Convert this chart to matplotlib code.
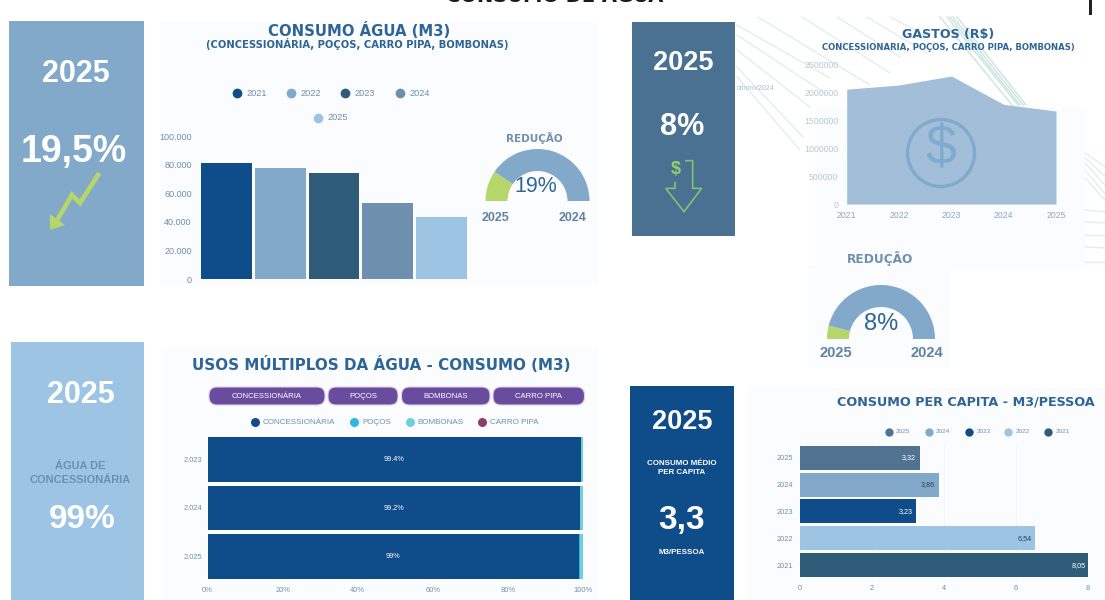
import numpy as np
import matplotlib
matplotlib.use("Agg")
import matplotlib.pyplot as plt
from matplotlib.patches import Rectangle, FancyBboxPatch, Circle, Polygon

W, H = 1105, 600
SANS = "Liberation Sans"
WIDE = "DejaVu Sans"
plt.rcParams["font.family"] = [SANS, "DejaVu Sans"]

# ---- data ----
years = ["2021", "2022", "2023", "2024", "2025"]
consumo = [81300, 77600, 74000, 53400, 43200]
consumo_ticks = [0, 20000, 40000, 60000, 80000, 100000]
consumo_tick_labels = ["0", "20.000", "40.000", "60.000", "80.000", "100.000"]
gastos = [2050000, 2125000, 2286000, 1780000, 1660000]
gastos_ticks = [0, 500000, 1000000, 1500000, 2000000, 2500000]
usos_years = ["2.023", "2.024", "2.025"]
usos_names = ["CONCESSIONÁRIA", "POÇOS", "BOMBONAS", "CARRO PIPA"]
usos_conc = [99.4, 99.2, 99.0]
usos_pocos = [0.1, 0.1, 0.2]
usos_bomb = [0.5, 0.7, 0.8]
usos_pipa = [0.0, 0.0, 0.0]
usos_labels = ["99.4%", "99.2%", "99%"]
usos_ticks = [0, 20, 40, 60, 80, 100]
capita_years = ["2021", "2022", "2023", "2024", "2025"]
capita = [8.05, 6.54, 3.23, 3.86, 3.32]
capita_labels = ["8,05", "6,54", "3,23", "3,86", "3,32"]
capita_ticks = [0, 2, 4, 6, 8]
gauge_agua = [19, 81]
gauge_gastos = [8, 92]

# ---- colours ----
C1, C2, C3, C4, C5 = "#0F4C8A", "#82A9CA", "#2F5C78", "#6E90AE", "#9DC5E3"
TITLE = "#2E6597"
TICK = "#6F8FAD"
GREEN = "#B5D66A"
FAN = "#DDEEEB"
usos_colors = ["#0F4C8A", "#2EB8E0", "#6FD0D8", "#8E3F6E"]
capita_colors = ["#2F5C78", "#9DC5E3", "#0F4C8A", "#82A9CA", "#4F7391"]

fig = plt.figure(figsize=(W / 100, H / 100), dpi=100, facecolor="white")


def px_axes(x0, y0, x1, y1, z=2):
    ax = fig.add_axes([x0 / W, 1 - y1 / H, (x1 - x0) / W, (y1 - y0) / H], zorder=z)
    ax.patch.set_alpha(0)
    return ax


# background layer in pixel coordinates
bg = px_axes(0, 0, W, H, z=0)
bg.set_xlim(0, W)
bg.set_ylim(H, 0)
bg.axis("off")

# pale card backgrounds
for x0, y0, x1, y1 in [(160, 22, 598, 284), (163, 348, 598, 600), (815, 108, 1085, 268),
                       (808, 265, 950, 368), (748, 388, 1105, 600)]:
    bg.add_patch(Rectangle((x0, y0), x1 - x0, y1 - y0, fc="#FBFCFE", ec="none", zorder=1))

# decorative fans
for x0, y0, x1, y1 in [(737, 35, 825, 93), (758, 17, 870, 85), (802, 17, 890, 73),
                       (837, 17, 900, 57), (737, 50, 810, 107), (737, 67, 803, 137),
                       (737, 77, 800, 150), (737, 25, 830, 78), (867, 17, 927, 53),
                       (890, 17, 930, 38)]:
    bg.plot([x0, x1], [y0, y1], color=FAN, lw=0.9, zorder=2)
for x0, x1 in [(947, 1018), (950, 1020), (953, 1023), (957, 1026), (940, 1012)]:
    bg.plot([x0, x1], [17, 105], color="#CFE6E0", lw=1.1, zorder=2)
for y0, y1 in [(153, 167), (158, 176), (163, 185), (170, 194), (178, 200), (210, 212),
               (222, 223), (235, 235), (247, 248), (262, 262)]:
    bg.plot([1085, 1105], [y0, y1], color=FAN, lw=0.9, zorder=2)
bg.text(737, 89, "omoro/2024", ha="left", va="center", fontsize=5, color="#A9BDD0", zorder=3)

# KPI panels
for x0, y0, x1, y1, c in [(9, 21, 144, 286, C2), (632, 22, 735, 236, "#4A7092"),
                          (11, 342, 144, 600, C5), (630, 386, 734, 600, C1)]:
    bg.add_patch(Rectangle((x0, y0), x1 - x0, y1 - y0, fc=c, ec="none", zorder=3))

# top cropped title and black mark
bg.text(555, -4, "CONSUMO DE ÁGUA", ha="center", va="center", fontsize=14,
        fontweight="bold", color="#1A1A1A", zorder=5, family=WIDE, clip_on=False)
bg.add_patch(Rectangle((1089, 0), 3, 15, fc="#222222", ec="none", zorder=5))


def t(x, y, s, size, color="white", weight="bold", family=SANS, ha="center", ls=1.15):
    return bg.text(x, y, s, ha=ha, va="center", fontsize=size, color=color,
                   fontweight=weight, family=family, zorder=6, linespacing=ls)


# KPI text
t(76, 74, "2025", 22)
t(74, 152, "19,5%", 27)
t(683, 63, "2025", 19.5)
t(682, 127, "8%", 22)
t(81, 395, "2025", 22)
t(80, 473, "ÁGUA DE\nCONCESSIONÁRIA", 7.9, color="#6D8FAE", ls=1.4)
t(82, 519, "99%", 24)
t(682, 422, "2025", 19.5)
t(682, 468, "CONSUMO MÉDIO\nPER CAPITA", 5.7, ls=1.5)
t(682, 520, "3,3", 24)
t(682, 552, "M3/PESSOA", 5.7)

# arrows on KPI panels
bg.plot([98, 80, 72, 56], [175, 203, 195, 222], color=GREEN, lw=3.4,
        solid_joinstyle="miter", zorder=6)
bg.add_patch(Polygon([(50, 230), (50, 214), (65, 225)], fc=GREEN, ec="none", zorder=6))
bg.add_patch(Polygon(np.c_[np.array([195, 218, 218, 245, 192, 137, 165, 165]) / 3 + 620,
                           np.array([482, 482, 565, 565, 635, 565, 565, 545]) / 3],
                     closed=False, fc="none", ec="#7CC576", lw=1.2, zorder=6))
t(675.5, 170, "$", 13, color="#8FD16F")

# titles
t(359, 31, "CONSUMO ÁGUA (M3)", 10.7, color=TITLE, family=WIDE)
t(357, 44.5, "(CONCESSIONÁRIA, POÇOS, CARRO PIPA, BOMBONAS)", 7.2, color=TITLE, family=WIDE)
t(948, 34.5, "GASTOS (R$)", 9.1, color=TITLE, family=WIDE)
t(948, 47, "CONCESSIONARIA, POÇOS, CARRO PIPA, BOMBONAS)", 6.1, color=TITLE, family=WIDE)
t(381, 364, "USOS MÚLTIPLOS DA ÁGUA - CONSUMO (M3)", 10.9, color=TITLE, family=WIDE)
t(966, 402, "CONSUMO PER CAPITA - M3/PESSOA", 9.2, color=TITLE, family=WIDE)
t(534, 138, "REDUÇÃO", 7.5, color=C4, family=WIDE)
t(880, 259, "REDUÇÃO", 8.7, color=C4, family=WIDE)


def legend(xs, ys, labels, colors, size, ms=7, gap=6, color=TICK):
    for x, y, s, c in zip(xs, ys, labels, colors):
        bg.plot([x], [y], "o", ms=ms, color=c, mec="none", zorder=6)
        t(x + gap, y, s, size, color=color, weight="normal", ha="left")


legend([237, 291, 345, 399.5, 318], [93, 93, 93, 93, 118], years, [C1, C2, C3, C4, C5], 6.6, gap=9.5)
legend([255, 354, 409.5, 481.5], [422] * 4, usos_names, usos_colors, 5.8, ms=6.5, gap=8)
legend([888.5, 928.5, 969, 1008, 1048], [431.5] * 5, capita_years[::-1], capita_colors[::-1], 4.6, ms=6, gap=7.5)

# pills
for (x0, x1), s in zip([(209, 325), (328, 398), (401.5, 490), (493, 584.5)], usos_names):
    bg.add_patch(FancyBboxPatch((x0 + 8, 395), x1 - x0 - 16, 2,
                                boxstyle="round,pad=8,rounding_size=8", fc="#694C9E", ec="#D9CFEA",
                                lw=0.8, zorder=5))
    t((x0 + x1) / 2, 396, s, 5.6, weight="normal")

# ---- consumo bars ----
ax = px_axes(200, 136, 468, 279)
ax.bar(range(5), consumo, width=0.945, color=[C1, C2, C3, C4, C5])
ax.set_xlim(-0.5, 4.5)
ax.set_ylim(0, 100000)
ax.set_xticks([])
ax.set_yticks(consumo_ticks, consumo_tick_labels, fontsize=6.5, color=TICK)
ax.tick_params(length=0, pad=6)
for s in ax.spines.values():
    s.set_visible(False)


# ---- gauges ----
def gauge(cx, cy, r, inner, vals, pct, pct_xy, pct_size, lab_xy, lab_size):
    a = px_axes(cx - r, cy - r, cx + r, cy + r, z=3)
    a.pie(vals + [sum(vals)], colors=[GREEN, C2, "none"], startangle=180, counterclock=False,
          radius=1, wedgeprops={"width": 1 - inner / r, "linewidth": 0})
    a.set_xlim(-1, 1)
    a.set_ylim(-1, 1)
    t(pct_xy[0], pct_xy[1], pct, pct_size, color=TITLE, weight="normal")
    for (x, y), s in zip(lab_xy, ["2025", "2024"]):
        t(x, y, s, lab_size, color="#5F83A3")


gauge(537.5, 201, 52, 30, gauge_agua, "19%", (536, 186), 15.5, [(496, 218), (573, 218)], 9)
gauge(881, 339, 54, 32, gauge_gastos, "8%", (881, 324), 17, [(836, 353), (927, 353)], 10.5)

# ---- gastos area ----
ax = px_axes(846.7, 64, 1056, 204)
xs = np.arange(5)
ax.fill_between(xs, gastos, 0, color="#A3BED8", lw=0)
ax.set_xlim(0, 4)
ax.set_ylim(0, 2500000)
ax.set_xticks(xs, years, fontsize=6.3, color="#8FA8BF")
ax.set_yticks(gastos_ticks, [str(v) for v in gastos_ticks], fontsize=6.3, color="#B8C8D6")
ax.tick_params(length=0, pad=6)
ax.tick_params(axis="x", pad=5)
for s in ax.spines.values():
    s.set_visible(False)

fg = px_axes(0, 0, W, H, z=5)
fg.set_xlim(0, W)
fg.set_ylim(H, 0)
fg.axis("off")
fg.add_patch(Circle((941, 153), 33.5, fc="none", ec="#7FABCF", lw=2.4))
fg.text(941, 151, "$", ha="center", va="center", fontsize=40, color="#7FABCF", family=SANS)

# ---- usos stacked ----
ax = px_axes(207.5, 435, 583, 581)
y = np.arange(3)
left = np.zeros(3)
for vals, c in zip([usos_conc, usos_pocos, usos_bomb, usos_pipa], usos_colors):
    ax.barh(y, vals, left=left, height=0.915, color=c, lw=0)
    left = left + np.array(vals)
for i, s in enumerate(usos_labels):
    ax.text(usos_conc[i] / 2, i, s, ha="center", va="center", color="white", fontsize=5.2)
ax.set_yticks(y, usos_years, fontsize=5.4, color=TICK)
ax.set_ylim(2.5, -0.5)
ax.set_xlim(0, 100)
ax.set_xticks(usos_ticks, [f"{v}%" for v in usos_ticks], fontsize=5.4, color=TICK)
ax.tick_params(length=0, pad=4)
for s in ax.spines.values():
    s.set_visible(False)

# ---- per capita ----
ax = px_axes(800, 444.3, 1088, 578.5)
y = np.arange(5)
ax.barh(y, capita, height=0.89, color=capita_colors, lw=0)
ax.set_yticks(y, capita_years, fontsize=5.3, color=TICK)
ax.set_ylim(-0.5, 4.5)
ax.set_xlim(0, 8)
ax.set_xticks(capita_ticks, [str(v) for v in capita_ticks], fontsize=5.3, color=TICK)
ax.xaxis.grid(True, color="#F3F6FA", lw=0.8)
ax.set_axisbelow(True)
ax.tick_params(length=0, pad=5)
for i, s in enumerate(capita_labels):
    col = "#2B3E50" if capita_years[i] in ("2022", "2024") else "white"
    ax.text(capita[i] - 0.1, i, s, ha="right", va="center", color=col, fontsize=5.2)
for s in ax.spines.values():
    s.set_visible(False)

fig.savefig("out.png", dpi=100, facecolor="white")
